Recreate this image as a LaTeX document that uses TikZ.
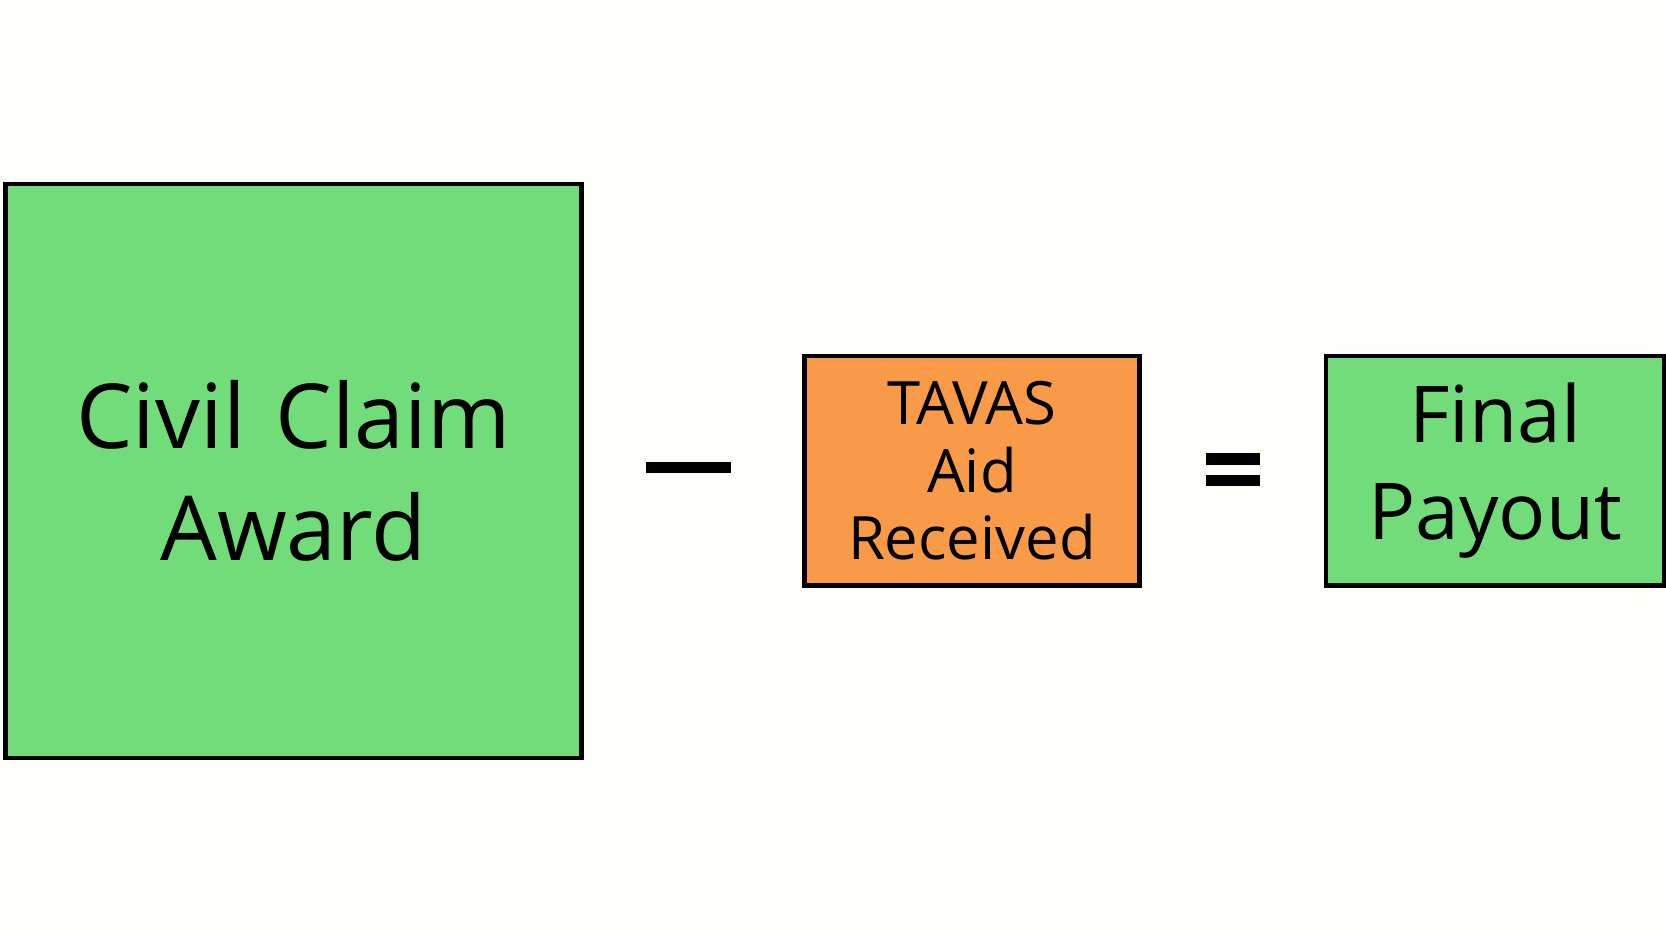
\documentclass[tikz,border=0pt]{standalone}
\usepackage{fontspec}
\setmainfont{Open Sans}
\definecolor{boxgreen}{HTML}{72DC7A}
\definecolor{boxorange}{HTML}{F99A48}
\definecolor{paper}{HTML}{FDFDF9}
\begin{document}
\begin{tikzpicture}[x=0.01cm,y=-0.01cm]
    \tikzstyle{box}=[draw=black,line width=1.2pt,anchor=north west,inner sep=0pt,align=center]
    \tikzstyle{op}=[line width=3pt]

    \fill[paper] (0,0) rectangle (1568,882);
    \useasboundingbox (0,0) rectangle (1568,882);

    \node[box,fill=boxgreen,minimum width=542\pgflinewidth,text width=5.3cm,minimum width=5.42cm,minimum height=5.4cm,font=\fontsize{24}{30}\selectfont]
        (award) at (3,171) {Civil Claim\\Award};
    \node[box,fill=boxorange,minimum width=3.15cm,minimum height=2.16cm,font=\fontsize{16}{18}\selectfont]
        (aid) at (755,333) {TAVAS\\Aid\\Received};
    \node[box,fill=boxgreen,minimum width=3.18cm,minimum height=2.16cm,font=\fontsize{21}{26}\selectfont]
        (payout) at (1246,333) {Final\\Payout};

    \coordinate (m1) at (608,440);
    \coordinate (m2) at (688,440);
    \coordinate (e1) at (1135,432);
    \coordinate (e2) at (1186,432);
    \coordinate (e3) at (1135,452);
    \coordinate (e4) at (1186,452);

    \draw[op] (m1) -- (m2);
    \draw[op] (e1) -- (e2);
    \draw[op] (e3) -- (e4);
\end{tikzpicture}
\end{document}
